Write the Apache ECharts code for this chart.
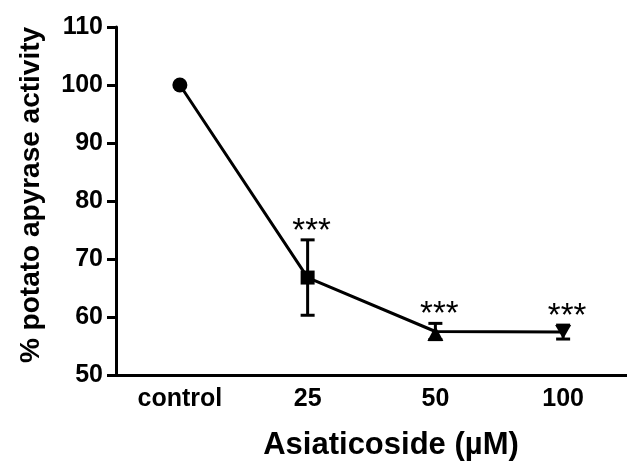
<!DOCTYPE html>
<html>
<head>
<meta charset="utf-8">
<style>html,body{margin:0;padding:0;background:#fff;}#c{width:627px;height:467px;}</style>
<script src="https://cdn.jsdelivr.net/npm/echarts@6/dist/echarts.min.js"></script>
</head>
<body>
<div id="c"></div>
<script>
// ---- data ----
var categories = ['control', '25', '50', '100'];
var meanValues = [100, 66.8, 57.5, 57.4];
var errValues = [0, 6.5, 1.4, 1.2];
var sigLabels = ['', '***', '***', '***'];
var yTicks = [50, 60, 70, 80, 90, 100, 110];
var xTitle = 'Asiaticoside (\u00b5M)';
var yTitle = '% potato apyrase activity';

// ---- chart ----
var FONT = '"Liberation Sans", Arial, sans-serif';
var symbols = ['circle', 'rect', 'triangle', 'triangle'];
var symbolSizes = [15, 14, [16, 15], [16, 14]];
var symbolRotates = [0, 0, 0, 180];
var symbolOffsets = [[0, 0], [0, 0], [0, 2], [0, 0]];

var chart = echarts.init(document.getElementById('c'), null, {renderer: 'canvas'});

var lineData = meanValues.map(function (v, i) {
  return {
    value: v,
    symbol: symbols[i],
    symbolSize: symbolSizes[i],
    symbolRotate: symbolRotates[i],
    symbolOffset: symbolOffsets[i]
  };
});

var errData = meanValues.map(function (v, i) {
  return [i, v, errValues[i]];
});

var option = {
  animation: false,
  backgroundColor: '#fff',
  grid: {left: 116, right: -4, top: 27, bottom: 92, containLabel: false},
  xAxis: {
    type: 'category',
    data: categories,
    boundaryGap: true,
    axisLine: {lineStyle: {color: '#000', width: 3}},
    axisTick: {alignWithLabel: true, length: 9, lineStyle: {color: '#000', width: 3}},
    axisLabel: {color: '#000', fontSize: 25, fontWeight: 'bold', fontFamily: FONT, margin: 12},
    splitLine: {show: false}
  },
  yAxis: {
    type: 'value',
    min: yTicks[0],
    max: yTicks[yTicks.length - 1],
    interval: 10,
    axisLine: {show: true, lineStyle: {color: '#000', width: 3}},
    axisTick: {show: true, length: 9, lineStyle: {color: '#000', width: 3}},
    axisLabel: {color: '#000', fontSize: 25, fontWeight: 'bold', fontFamily: FONT, margin: 13},
    splitLine: {show: false}
  },
  graphic: [
    {
      type: 'text',
      x: 391, y: 445,
      style: {text: xTitle, fill: '#000', font: 'bold 31px ' + FONT, align: 'center', verticalAlign: 'middle'}
    },
    {
      type: 'text',
      x: 31, y: 195,
      rotation: Math.PI / 2,
      style: {text: yTitle, fill: '#000', font: 'bold 28px ' + FONT, align: 'center', verticalAlign: 'middle'}
    }
  ],
  series: [
    {
      type: 'line',
      data: lineData,
      lineStyle: {color: '#000', width: 3},
      itemStyle: {color: '#000'},
      showAllSymbol: true,
      z: 3
    },
    {
      type: 'custom',
      data: errData,
      z: 4,
      renderItem: function (params, api) {
        var i = api.value(0), m = api.value(1), e = api.value(2);
        var sig = sigLabels[params.dataIndex];
        var top = api.coord([i, m + e]);
        var bot = api.coord([i, m - e]);
        var mid = api.coord([i, m]);
        var half = 7;
        var children = [];
        if (e > 0) {
          children.push({type: 'line', shape: {x1: top[0], y1: top[1], x2: bot[0], y2: bot[1]}, style: {stroke: '#000', lineWidth: 3}});
          children.push({type: 'line', shape: {x1: top[0] - half, y1: top[1], x2: top[0] + half, y2: top[1]}, style: {stroke: '#000', lineWidth: 3}});
          children.push({type: 'line', shape: {x1: bot[0] - half, y1: bot[1], x2: bot[0] + half, y2: bot[1]}, style: {stroke: '#000', lineWidth: 3}});
        }
        if (sig) {
          var yTop = Math.min(top[1], mid[1] - 7);
          children.push({
            type: 'text',
            x: top[0] + 4, y: yTop - 8,
            style: {text: sig, fill: '#000', font: '33px ' + FONT, align: 'center', verticalAlign: 'middle'}
          });
        }
        return {type: 'group', children: children};
      }
    }
  ]
};
chart.setOption(option);
</script>
</body>
</html>
